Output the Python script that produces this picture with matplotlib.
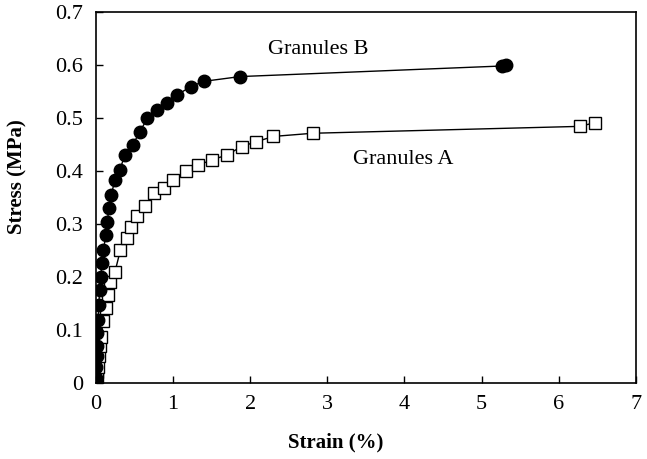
import numpy as np
import matplotlib.pyplot as plt

plt.rcParams['font.family'] = ['Liberation Serif', 'DejaVu Serif']

# Granules B (filled circles)
strain_b = [0.0, 0.003, 0.005, 0.01, 0.015, 0.02, 0.03, 0.04, 0.05, 0.065,
            0.08, 0.10, 0.13, 0.15, 0.17, 0.20, 0.25, 0.31, 0.38, 0.48,
            0.57, 0.67, 0.79, 0.92, 1.05, 1.23, 1.40, 1.87, 5.27, 5.32]
stress_b = [0.0, 0.01, 0.03, 0.05, 0.07, 0.094, 0.119, 0.147, 0.175, 0.200,
            0.226, 0.251, 0.279, 0.304, 0.330, 0.355, 0.383, 0.402, 0.430,
            0.449, 0.474, 0.499, 0.514, 0.528, 0.543, 0.559, 0.569, 0.578,
            0.598, 0.600]

# Granules A (open squares)
strain_a = [0.0, 0.01, 0.02, 0.03, 0.04, 0.05, 0.07, 0.095, 0.13, 0.16,
            0.19, 0.25, 0.32, 0.40, 0.46, 0.54, 0.64, 0.76, 0.88, 1.00,
            1.17, 1.33, 1.51, 1.70, 1.89, 2.08, 2.30, 2.81, 6.27, 6.47]
stress_a = [0.0, 0.01, 0.02, 0.03, 0.05, 0.07, 0.087, 0.116, 0.141, 0.166,
            0.191, 0.210, 0.251, 0.273, 0.294, 0.314, 0.333, 0.358, 0.368,
            0.383, 0.400, 0.411, 0.421, 0.430, 0.446, 0.455, 0.465, 0.471,
            0.484, 0.491]

y_labels = ['0', '0.1', '0.2', '0.3', '0.4', '0.5', '0.6', '0.7']

fig = plt.figure(figsize=(6.47, 4.59), dpi=100)
ax = fig.add_axes([0.148, 0.166, 0.835, 0.808])

ax.plot(strain_a, stress_a, color='black', lw=1, marker='s', ms=8,
        mfc='white', mec='black', mew=1)
ax.plot(strain_b, stress_b, color='black', lw=1, marker='o', ms=9,
        mfc='black', mec='black')

ax.text(2.88, 0.630, 'Granules B', fontsize=16, ha='center', va='center')
ax.text(3.98, 0.421, 'Granules A', fontsize=16, ha='center', va='center')

ax.set_xlim(0, 7)
ax.set_ylim(0, 0.7)
ax.set_xticks(range(8))
ax.set_yticks(np.arange(0, 0.71, 0.1))
ax.set_yticklabels(y_labels)
ax.tick_params(direction='in', labelsize=16, length=5, width=1)
ax.tick_params(axis='x', pad=9)
ax.tick_params(axis='y', pad=9)
for s in ax.spines.values():
    s.set_linewidth(1.2)

ax.set_xlabel('Strain (%)', fontsize=15, fontweight='bold')
ax.set_ylabel('Stress (MPa)', fontsize=15, fontweight='bold')
ax.xaxis.set_label_coords(0.444, -0.135)
ax.yaxis.set_label_coords(-0.126, 0.555)

fig.savefig('out.png', dpi=100)
